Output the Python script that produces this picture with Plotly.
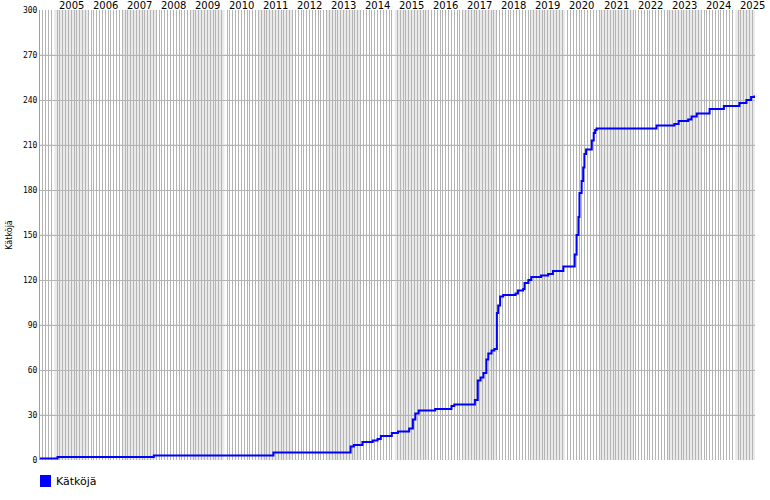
import plotly.graph_objects as go

# ---- data ----
dates = ["2004-08-01", "2005-02-05", "2007-12-05", "2011-06-10", "2013-09-15", "2013-10-20",
         "2014-01-20", "2014-05-10", "2014-07-01", "2014-08-05", "2014-12-01", "2015-02-05",
         "2015-06-05", "2015-07-15", "2015-08-10", "2015-09-15", "2016-03-10", "2016-09-01",
         "2016-10-01", "2017-05-10", "2017-06-10", "2017-07-10", "2017-08-10", "2017-09-10",
         "2017-10-01", "2017-11-05", "2017-12-05", "2018-01-01", "2018-01-15", "2018-02-05",
         "2018-03-10", "2018-07-20", "2018-08-15", "2018-10-10", "2018-10-25", "2018-12-05",
         "2019-01-05", "2019-04-20", "2019-07-05", "2019-08-25", "2019-12-15", "2020-04-15",
         "2020-05-05", "2020-05-25", "2020-06-05", "2020-06-28", "2020-07-15", "2020-07-28",
         "2020-08-15", "2020-10-15", "2020-11-05", "2020-11-20", "2020-12-05", "2022-09-10",
         "2023-03-20", "2023-05-05", "2023-08-15", "2023-09-20", "2023-11-15", "2024-04-01",
         "2024-09-01", "2025-02-15", "2025-05-01", "2025-06-20", "2025-07-25"]
values = [1, 2, 3, 5, 9, 10,
          12, 13, 14, 16, 18, 19,
          21, 27, 31, 33, 34, 36,
          37, 40, 53, 55, 58, 67,
          71, 73, 74, 98, 103, 109,
          110, 111, 113, 114, 118, 120,
          122, 123, 124, 126, 129, 137,
          150, 162, 178, 186, 195, 204,
          207, 213, 218, 220, 221, 223,
          224, 226, 227, 229, 231, 234,
          236, 238, 240, 242, 243]

series_name = "Kätköjä"
years = list(range(2005, 2026))
year_labels = [str(y) for y in years]
year_mid = [f"{y}-07-02" for y in years]
y_ticks = list(range(0, 301, 30))

x_start = "2004-08-01"
x_end = "2025-08-01"

fig = go.Figure()
fig.add_trace(go.Scatter(
    x=dates, y=values, mode="lines", line=dict(color="#0000ff", width=2, shape="hv"),
    name=series_name, showlegend=False, hoverinfo="x+y"))

shapes = []
for y in years:
    if y % 2 == 1:
        shapes.append(dict(type="rect", xref="x", yref="paper", x0=f"{y}-01-01", x1=f"{y+1}-01-01",
                           y0=0, y1=1, fillcolor="#eaeaea", line=dict(width=0), layer="below"))
for v in y_ticks:
    if v % 60 == 30:
        shapes.append(dict(type="line", xref="paper", yref="y", x0=0, x1=1, y0=v, y1=v,
                           line=dict(color="#d9d9d9", width=1), layer="between"))
# legend swatch
shapes.append(dict(type="rect", xref="paper", yref="paper", x0=0, x1=11/715, y0=-27/450, y1=-15/450,
                   fillcolor="#0000ff", line=dict(width=0)))

# year labels above the plot, centred on each year
annotations = [dict(xref="x", yref="paper", x=d, y=1, yshift=-2, text=t, showarrow=False,
                    xanchor="center", yanchor="bottom", borderpad=0,
                    font=dict(family="DejaVu Sans", size=10, color="black"))
               for d, t in zip(year_mid, year_labels)]
annotations.append(dict(xref="paper", yref="paper", x=14/715, y=-21/450, text=series_name,
                        showarrow=False, xanchor="left", yanchor="middle",
                        font=dict(family="DejaVu Sans", size=11, color="black")))

fig.update_layout(
    width=770, height=500,
    margin=dict(l=40, r=15, t=10, b=40, autoexpand=False),
    paper_bgcolor="white", plot_bgcolor="white",
    font=dict(family="DejaVu Sans", color="black"),
    showlegend=False,
    shapes=shapes,
    annotations=annotations,
    xaxis=dict(type="date", range=[x_start, x_end], side="top",
               showticklabels=False, ticks="", showgrid=False, zeroline=False, showline=False,
               automargin=False,
               minor=dict(dtick="M1", tick0=x_start, showgrid=True, gridcolor="#b4b4b4", gridwidth=1)),
    yaxis=dict(range=[0, 300], tickmode="array", tickvals=y_ticks,
               ticks="", showgrid=True, gridcolor="#b4b4b4", gridwidth=1, zeroline=False,
               showline=True, linecolor="#a0a0a0", linewidth=1,
               tickfont=dict(family="DejaVu Sans Mono", size=8, color="black"),
               title=dict(text=series_name, font=dict(family="DejaVu Sans", size=8), standoff=9),
               automargin=False),
)

fig.write_html("out.html", config={"displayModeBar": False},
               post_script="document.body.style.margin='0px';document.body.style.padding='0px';")
